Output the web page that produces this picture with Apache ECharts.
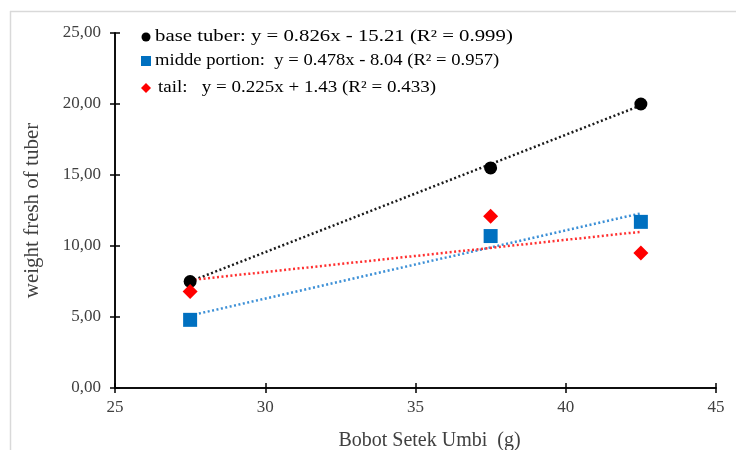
<!DOCTYPE html>
<html lang="en" style="height: 100%;margin: 0;background-color: #fff;">
<head>
    <meta charset="UTF-8">
    <title>chart</title>
</head>
<body style="height: 100%;margin: 0;background-color: #fff;">
<div id="chart" style="width: 736px;height: 450px;margin: 0;"></div>
<script src="https://cdn.jsdelivr.net/npm/echarts@6/dist/echarts.min.js"></script>
<script>
    var xValues = [27.5, 37.5, 42.5];
    var baseTuber = [7.5, 15.5, 20.0];
    var middePortion = [4.8, 10.7, 11.7];
    var tail = [6.8, 12.1, 9.5];
    // trendline ends, read at x = 27.5 and x = 42.5
    var trendX = [27.5, 42.5];
    var baseTrend = [7.5, 19.9];
    var middeTrend = [5.1, 12.3];
    var tailTrend = [7.6, 11.0];
    var names = [
        "base tuber: y = 0.826x - 15.21 (R² = 0.999)",
        "midde portion:  y = 0.478x - 8.04 (R² = 0.957)",
        "tail:   y = 0.225x + 1.43 (R² = 0.433)"
    ];

    var font = "'Liberation Serif', 'Times New Roman', serif";
    var myChart = echarts.init(document.getElementById("chart"), null, {renderer: 'canvas'});

    function pairs(xs, ys) {
        var out = [];
        for (var i = 0; i < xs.length; i++) out.push([xs[i], ys[i]]);
        return out;
    }

    // trendlines sit on the second (tick-only) axis pair, same scale as the first
    function trend(data, color) {
        return {
            type: 'line',
            xAxisIndex: 1,
            yAxisIndex: 1,
            data: pairs(trendX, data),
            symbol: 'none',
            silent: true,
            z: 1,
            lineStyle: {color: color, width: 2.5, type: [2, 2.5]}
        };
    }

    function tickAxis(extra) {
        var axis = {
            type: 'value',
            axisLine: {show: true, onZero: false, lineStyle: {color: '#000', width: 1.5}},
            axisTick: {show: true, inside: true, length: 5, lineStyle: {color: '#000', width: 1.5}},
            axisLabel: {show: false},
            splitLine: {show: false}
        };
        for (var k in extra) axis[k] = extra[k];
        return axis;
    }

    // legend drawn as text rows (Word-style legend with trend equations)
    var legendRows = [
        {x: 155, y: 37, sx: 1.04, icon: {type: 'circle', shape: {cx: 146, cy: 37, r: 4.5}, style: {fill: '#000'}}},
        {x: 155, y: 61, sx: 0.93, icon: {type: 'rect', shape: {x: 141, y: 56, width: 10, height: 10}, style: {fill: '#0070c0'}}},
        {x: 158, y: 88, sx: 0.95, icon: {type: 'polygon', shape: {points: [[146, 83], [151, 88], [146, 93], [141, 88]]}, style: {fill: '#ff0000'}}}
    ];
    var legendGraphics = [];
    for (var r = 0; r < legendRows.length; r++) {
        legendGraphics.push(legendRows[r].icon);
        legendGraphics.push({
            type: 'text', x: legendRows[r].x, y: legendRows[r].y, scaleX: legendRows[r].sx, scaleY: 0.8,
            style: {text: names[r], font: "20px " + font, fill: '#000', verticalAlign: 'middle'}
        });
    }

    var option = {
        backgroundColor: '#fff',
        animation: false,
        grid: {left: 115, right: 20, top: 33, bottom: 62, outerBoundsMode: 'none', containLabel: false},
        xAxis: [{
            type: 'value', min: 25, max: 45, interval: 5,
            name: 'Bobot Setek Umbi  (g)', nameLocation: 'middle', nameGap: 43,
            nameTextStyle: {fontFamily: font, fontSize: 20, color: '#404040', padding: [0, 0, 0, 28]},
            axisLine: {show: true, onZero: false, lineStyle: {color: '#000', width: 1.5}},
            axisTick: {show: true, length: 5, lineStyle: {color: '#000', width: 1.5}},
            axisLabel: {fontFamily: font, fontSize: 17, color: '#404040', margin: 11},
            splitLine: {show: false}
        }, tickAxis({min: 25, max: 45, interval: 5, position: 'bottom'})],
        yAxis: [{
            type: 'value', min: 0, max: 25, interval: 5,
            name: 'weight fresh of tuber', nameLocation: 'middle', nameGap: 72, nameRotate: 90,
            nameTextStyle: {fontFamily: font, fontSize: 21, color: '#404040'},
            axisLine: {show: true, lineStyle: {color: '#000', width: 1.5}},
            axisTick: {show: true, length: 5, lineStyle: {color: '#000', width: 1.5}},
            axisLabel: {
                fontFamily: font, fontSize: 17, color: '#404040', margin: 14,
                formatter: function (v) { return v.toFixed(2).replace('.', ','); }
            },
            splitLine: {show: false}
        }, tickAxis({min: 0, max: 25, interval: 5, position: 'left', offset: 0})],
        series: [
            trend(baseTrend, '#1a1a1a'),
            trend(middeTrend, '#3b8fd6'),
            trend(tailTrend, '#ff3030'),
            {
                name: names[0], type: 'scatter', data: pairs(xValues, baseTuber),
                symbol: 'circle', symbolSize: 13, itemStyle: {color: '#000', opacity: 1}, z: 3
            },
            {
                name: names[1], type: 'scatter', data: pairs(xValues, middePortion),
                symbol: 'rect', symbolSize: 14, itemStyle: {color: '#0070c0', opacity: 1}, z: 3
            },
            {
                name: names[2], type: 'scatter', data: pairs(xValues, tail),
                symbol: 'diamond', symbolSize: 15, itemStyle: {color: '#ff0000', opacity: 1}, z: 3
            }
        ],
        graphic: [
            {type: 'line', shape: {x1: 10, y1: 11.5, x2: 736, y2: 11.5}, style: {stroke: '#d9d9d9', lineWidth: 1.5}},
            {type: 'line', shape: {x1: 10.5, y1: 11, x2: 10.5, y2: 450}, style: {stroke: '#d9d9d9', lineWidth: 1.5}}
        ].concat(legendGraphics)
    };
    myChart.setOption(option, true);
</script>
</body>
</html>
